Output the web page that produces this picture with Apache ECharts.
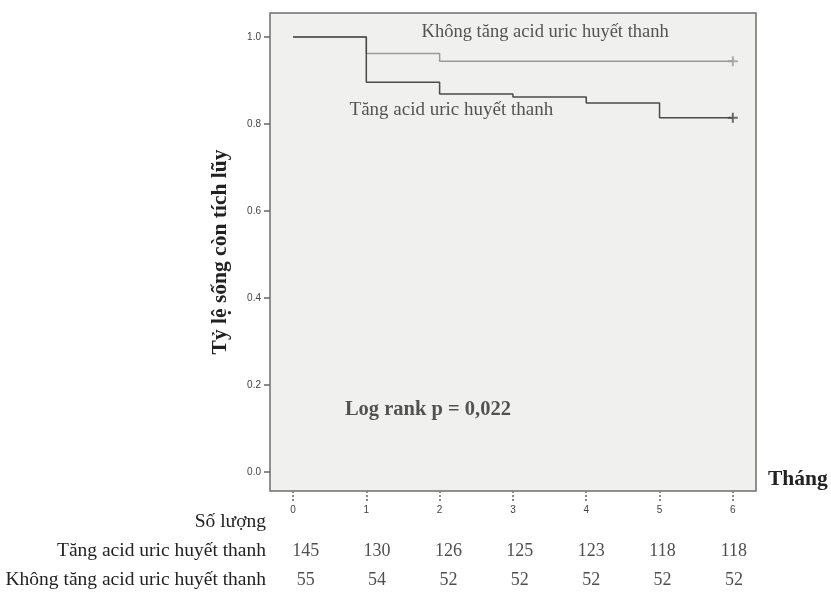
<!DOCTYPE html>
<html>
<head>
<meta charset="utf-8">
<script src="https://cdn.jsdelivr.net/npm/echarts@6/dist/echarts.min.js"></script>
<style>
  html, body { margin: 0; padding: 0; background: #ffffff; }
  #chart { width: 831px; height: 600px; }
</style>
</head>
<body>
<div id="chart"></div>
<script>
// ---- data ----
const months = [0, 1, 2, 3, 4, 5, 6];
const survHighUric = [1.0, 0.896, 0.869, 0.862, 0.848, 0.814, 0.814];   // Tăng acid uric huyết thanh
const survNormalUric = [1.0, 0.962, 0.944, 0.944, 0.944, 0.944, 0.944]; // Không tăng acid uric huyết thanh
const yTicks = [0, 0.2, 0.4, 0.6, 0.8, 1.0];
const riskRows = ['Số lượng', 'Tăng acid uric huyết thanh', 'Không tăng acid uric huyết thanh'];
const atRiskHigh = [145, 130, 126, 125, 123, 118, 118];
const atRiskNormal = [55, 54, 52, 52, 52, 52, 52];
const annotations = [
  { text: 'Không tăng acid uric huyết thanh', x: 3.44, y: 1.01, bold: false, size: 18.5 },
  { text: 'Tăng acid uric huyết thanh', x: 2.16, y: 0.832, bold: false, size: 19 },
  { text: 'Log rank p = 0,022', x: 1.84, y: 0.143, bold: true, size: 20.5 }
];

const SERIF = '"Liberation Serif", "DejaVu Serif", serif';
const SANS = '"Liberation Sans", "DejaVu Sans", sans-serif';

const chart = echarts.init(document.getElementById('chart'));

const pairs = (ys) => months.map((m, i) => [m, ys[i]]);
const plusPath = 'path://M4,0h2v4h4v2h-4v4h-2v-4h-4v-2h4z';

const riskData = [];
months.forEach((m, i) => {
  riskData.push([m, 1, atRiskHigh[i]]);
  riskData.push([m, 2, atRiskNormal[i]]);
});

chart.setOption({
  animation: false,
  backgroundColor: '#ffffff',
  grid: [
    { left: 270, right: 75, top: 13, bottom: 109, show: true,
      backgroundColor: '#f0f0ee', borderColor: '#6e6e6e', borderWidth: 1.5 },
    { left: 270, right: 75, top: 507, bottom: 5, show: false }
  ],
  xAxis: [
    {
      gridIndex: 0, type: 'value', min: -0.314, max: 6.316,
      name: 'Tháng', nameLocation: 'end', nameGap: 12,
      nameTextStyle: { fontFamily: SERIF, fontWeight: 'bold', fontSize: 21.5, color: '#222',
        align: 'left', verticalAlign: 'bottom', lineHeight: 24 },
      axisLine: { show: false, onZero: false },
      splitLine: { show: false },
      axisTick: { show: true, customValues: months, length: 10, inside: false,
        lineStyle: { color: '#888', width: 2, type: [2, 2] } },
      axisLabel: { show: true, customValues: months, margin: 14, fontFamily: SANS, fontSize: 10, color: '#444' }
    },
    {
      gridIndex: 1, type: 'value', min: -0.5, max: 6.31, show: false
    }
  ],
  yAxis: [
    {
      gridIndex: 0, type: 'value', min: -0.044, max: 1.055,
      name: 'Tỷ lệ sống còn tích lũy', nameLocation: 'middle', nameGap: 39, nameRotate: 90,
      nameTextStyle: { fontFamily: SERIF, fontWeight: 'bold', fontSize: 21.5, color: '#222' },
      axisLine: { show: false, onZero: false },
      splitLine: { show: false },
      axisTick: { show: true, customValues: yTicks, length: 6, lineStyle: { color: '#666', width: 1.5 } },
      axisLabel: { show: true, customValues: yTicks, margin: 9, fontFamily: SANS, fontSize: 10, color: '#444',
        formatter: (v) => Number(v).toFixed(1) }
    },
    {
      gridIndex: 1, type: 'category', inverse: true, data: riskRows,
      axisLine: { show: false }, axisTick: { show: false }, splitLine: { show: false },
      axisLabel: { margin: 4, fontFamily: SERIF, fontSize: 19.5, color: '#222' }
    }
  ],
  series: [
    {
      name: 'Không tăng acid uric huyết thanh', type: 'line', step: 'end',
      xAxisIndex: 0, yAxisIndex: 0, data: pairs(survNormalUric),
      showSymbol: false, lineStyle: { color: '#9a9a9a', width: 1.5 }, silent: true
    },
    {
      name: 'Tăng acid uric huyết thanh', type: 'line', step: 'end',
      xAxisIndex: 0, yAxisIndex: 0, data: pairs(survHighUric),
      showSymbol: false, lineStyle: { color: '#4a4a4a', width: 1.5 }, silent: true
    },
    {
      type: 'scatter', xAxisIndex: 0, yAxisIndex: 0, silent: true,
      symbol: plusPath, symbolSize: 10,
      data: [[months[6], survNormalUric[6]]],
      itemStyle: { color: '#9a9a9a' }
    },
    {
      type: 'scatter', xAxisIndex: 0, yAxisIndex: 0, silent: true,
      symbol: plusPath, symbolSize: 10,
      data: [[months[6], survHighUric[6]]],
      itemStyle: { color: '#4a4a4a' }
    },
    {
      type: 'scatter', xAxisIndex: 0, yAxisIndex: 0, silent: true,
      symbolSize: 0,
      data: annotations.map(a => ({ value: [a.x, a.y], label: {
        show: true, position: 'inside', formatter: a.text, fontFamily: SERIF,
        fontSize: a.size, fontWeight: a.bold ? 'bold' : 'normal', color: '#2a2a2a' } }))
    },
    {
      type: 'scatter', xAxisIndex: 1, yAxisIndex: 1, silent: true,
      symbolSize: 0, data: riskData,
      label: { show: true, position: 'inside', formatter: (p) => String(p.value[2]),
        fontFamily: SERIF, fontSize: 18, color: '#222' }
    }
  ]
});
</script>
</body>
</html>
